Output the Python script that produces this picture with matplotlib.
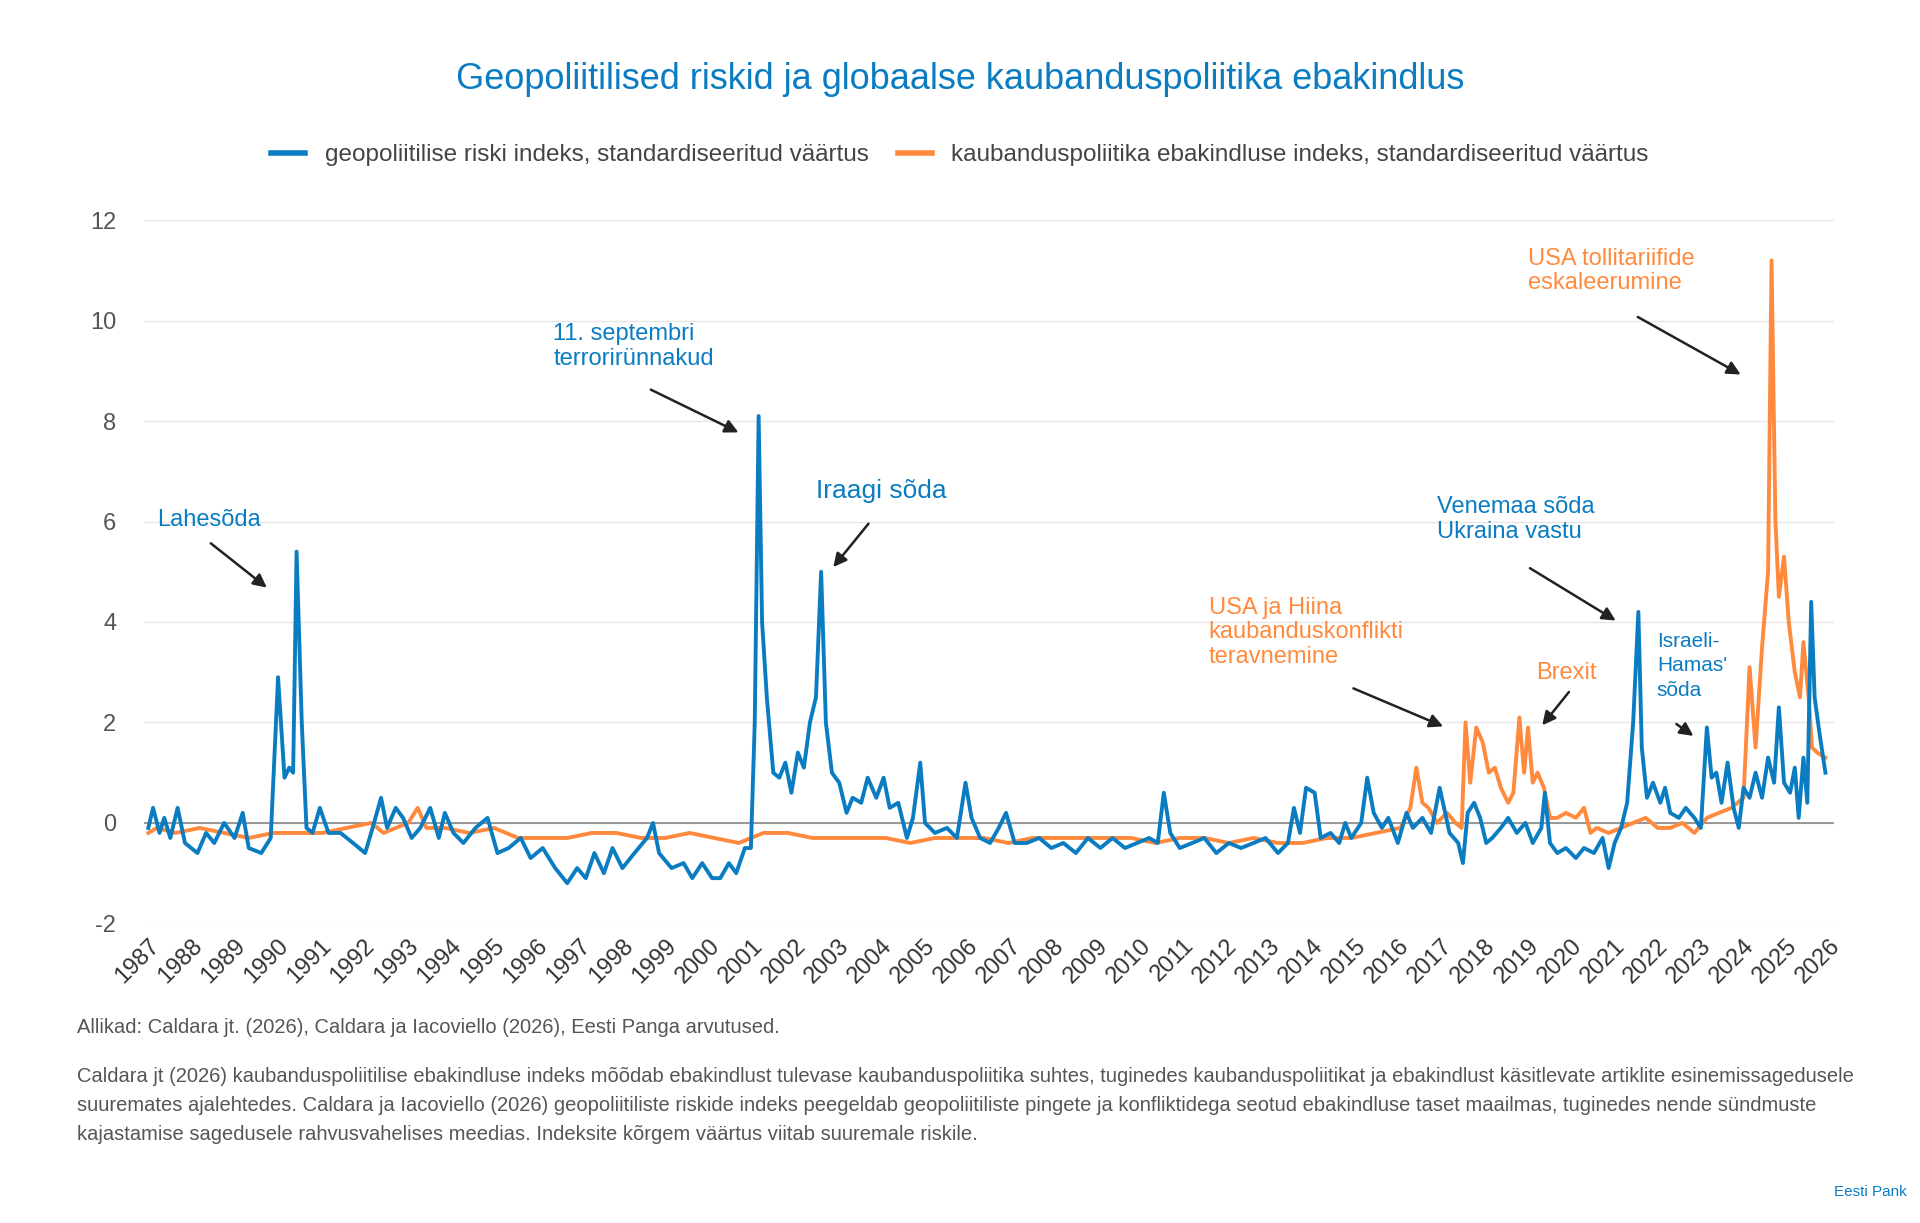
import matplotlib
matplotlib.use("Agg")
import matplotlib.pyplot as plt
from matplotlib.lines import Line2D

gpr_t = [1987.00,1987.11,1987.26,1987.37,1987.51,1987.68,1987.85,1988.14,1988.34,1988.53,1988.76,1989.0,1989.19,1989.33,1989.62,1989.84,1990.01,1990.16,1990.27,1990.36,1990.44,1990.56,1990.67,1990.81,1990.98,1991.18,1991.46,1991.75,1992.03,1992.17,1992.40,1992.54,1992.74,1992.91,1993.11,1993.31,1993.54,1993.74,1993.88,1994.08,1994.31,1994.59,1994.87,1995.10,1995.36,1995.64,1995.87,1996.15,1996.44,1996.72,1996.95,1997.15,1997.35,1997.57,1997.77,1998.00,1998.28,1998.57,1998.71,1998.85,1999.14,1999.42,1999.62,1999.85,2000.08,2000.27,2000.47,2000.64,2000.84,2000.98,2001.07,2001.16,2001.24,2001.35,2001.50,2001.64,2001.78,2001.92,2002.07,2002.21,2002.35,2002.49,2002.61,2002.72,2002.86,2003.03,2003.20,2003.34,2003.54,2003.69,2003.89,2004.06,2004.20,2004.40,2004.60,2004.74,2004.91,2005.02,2005.25,2005.53,2005.76,2005.96,2006.10,2006.30,2006.53,2006.73,2006.90,2007.10,2007.38,2007.67,2007.95,2008.23,2008.52,2008.80,2009.09,2009.37,2009.66,2009.94,2010.22,2010.42,2010.56,2010.71,2010.93,2011.22,2011.50,2011.78,2012.07,2012.35,2012.64,2012.92,2013.21,2013.44,2013.58,2013.72,2013.86,2014.06,2014.20,2014.43,2014.63,2014.77,2014.91,2015.14,2015.28,2015.43,2015.62,2015.77,2015.99,2016.19,2016.34,2016.56,2016.76,2016.96,2017.19,2017.39,2017.50,2017.61,2017.76,2017.90,2018.04,2018.18,2018.38,2018.55,2018.75,2018.95,2019.12,2019.32,2019.40,2019.52,2019.69,2019.89,2020.12,2020.31,2020.54,2020.74,2020.88,2021.02,2021.17,2021.31,2021.45,2021.57,2021.65,2021.77,2021.91,2022.08,2022.19,2022.31,2022.51,2022.67,2022.87,2023.02,2023.16,2023.27,2023.38,2023.50,2023.64,2023.78,2023.90,2024.01,2024.15,2024.29,2024.44,2024.58,2024.72,2024.83,2024.95,2025.09,2025.20,2025.29,2025.40,2025.49,2025.58,2025.66,2025.77,2025.91]
gpr_v = [-0.1,0.3,-0.2,0.1,-0.3,0.3,-0.4,-0.6,-0.2,-0.4,0.0,-0.3,0.2,-0.5,-0.6,-0.3,2.9,0.9,1.1,1.0,5.4,2.0,-0.1,-0.2,0.3,-0.2,-0.2,-0.4,-0.6,-0.2,0.5,-0.1,0.3,0.1,-0.3,-0.1,0.3,-0.3,0.2,-0.2,-0.4,-0.1,0.1,-0.6,-0.5,-0.3,-0.7,-0.5,-0.9,-1.2,-0.9,-1.1,-0.6,-1.0,-0.5,-0.9,-0.6,-0.3,0.0,-0.6,-0.9,-0.8,-1.1,-0.8,-1.1,-1.1,-0.8,-1.0,-0.5,-0.5,2.0,8.1,4.0,2.5,1.0,0.9,1.2,0.6,1.4,1.1,2.0,2.5,5.0,2.0,1.0,0.8,0.2,0.5,0.4,0.9,0.5,0.9,0.3,0.4,-0.3,0.1,1.2,0.0,-0.2,-0.1,-0.3,0.8,0.1,-0.3,-0.4,-0.1,0.2,-0.4,-0.4,-0.3,-0.5,-0.4,-0.6,-0.3,-0.5,-0.3,-0.5,-0.4,-0.3,-0.4,0.6,-0.2,-0.5,-0.4,-0.3,-0.6,-0.4,-0.5,-0.4,-0.3,-0.6,-0.4,0.3,-0.2,0.7,0.6,-0.3,-0.2,-0.4,0.0,-0.3,0.0,0.9,0.2,-0.1,0.1,-0.4,0.2,-0.1,0.1,-0.2,0.7,-0.2,-0.4,-0.8,0.2,0.4,0.1,-0.4,-0.3,-0.1,0.1,-0.2,0.0,-0.4,-0.1,0.6,-0.4,-0.6,-0.5,-0.7,-0.5,-0.6,-0.3,-0.9,-0.4,-0.1,0.4,2.0,4.2,1.5,0.5,0.8,0.4,0.7,0.2,0.1,0.3,0.1,-0.1,1.9,0.9,1.0,0.4,1.2,0.3,-0.1,0.7,0.5,1.0,0.5,1.3,0.8,2.3,0.8,0.6,1.1,0.1,1.3,0.4,4.4,2.5,1.8,1.0]

tpu_t = [1987.0,1987.2,1987.63,1988.19,1988.76,1989.33,1989.90,1990.47,1991.04,1991.60,1992.17,1992.46,1992.74,1993.03,1993.25,1993.45,1993.88,1994.45,1995.02,1995.58,1996.15,1996.72,1997.29,1997.86,1998.43,1998.99,1999.56,2000.13,2000.70,2001.27,2001.84,2002.41,2002.97,2003.54,2004.11,2004.68,2005.25,2005.82,2006.39,2006.95,2007.52,2008.09,2008.66,2009.23,2009.80,2010.37,2010.93,2011.50,2012.07,2012.64,2013.21,2013.78,2014.35,2014.91,2015.48,2016.05,2016.28,2016.42,2016.56,2016.70,2016.90,2017.13,2017.33,2017.47,2017.56,2017.67,2017.81,2017.96,2018.10,2018.24,2018.38,2018.55,2018.67,2018.81,2018.92,2019.01,2019.12,2019.23,2019.38,2019.52,2019.69,2019.89,2020.12,2020.31,2020.46,2020.60,2020.88,2021.17,2021.45,2021.74,2022.02,2022.31,2022.59,2022.87,2023.16,2023.44,2023.73,2024.01,2024.15,2024.29,2024.44,2024.58,2024.66,2024.75,2024.83,2024.95,2025.06,2025.20,2025.32,2025.40,2025.52,2025.60,2025.72,2025.91]
tpu_v = [-0.2,-0.1,-0.2,-0.1,-0.2,-0.3,-0.2,-0.2,-0.2,-0.1,0.0,-0.2,-0.1,0.0,0.3,-0.1,-0.1,-0.2,-0.1,-0.3,-0.3,-0.3,-0.2,-0.2,-0.3,-0.3,-0.2,-0.3,-0.4,-0.2,-0.2,-0.3,-0.3,-0.3,-0.3,-0.4,-0.3,-0.3,-0.3,-0.4,-0.3,-0.3,-0.3,-0.3,-0.3,-0.4,-0.3,-0.3,-0.4,-0.3,-0.4,-0.4,-0.3,-0.3,-0.2,-0.1,0.3,1.1,0.4,0.3,0.0,0.2,0.0,-0.1,2.0,0.8,1.9,1.6,1.0,1.1,0.7,0.4,0.6,2.1,1.0,1.9,0.8,1.0,0.7,0.1,0.1,0.2,0.1,0.3,-0.2,-0.1,-0.2,-0.1,0.0,0.1,-0.1,-0.1,0.0,-0.2,0.1,0.2,0.3,0.5,3.1,1.5,3.5,5.0,11.2,6.0,4.5,5.3,4.0,3.0,2.5,3.6,2.5,1.5,1.4,1.3]

years = list(range(1987, 2027))
yticks = [-2, 0, 2, 4, 6, 8, 10, 12]

BLUE = "#0a7cc2"
ORANGE = "#ff8a3d"
GREY = "#555555"

plt.rcParams['font.family'] = ['Liberation Sans', 'DejaVu Sans']
fig = plt.figure(figsize=(19.2, 12.23), dpi=100)
ax = fig.add_axes([0.075, 0.245, 0.88, 0.575])

ax.plot(tpu_t, tpu_v, color=ORANGE, lw=2.8, zorder=3)
ax.plot(gpr_t, gpr_v, color=BLUE, lw=2.8, zorder=4)

ax.set_xlim(1986.9, 2026.1)
ax.set_ylim(-2, 12)
ax.set_yticks(yticks)
ax.set_yticklabels([str(v) for v in yticks], fontsize=17, color=GREY)
ax.set_xticks(years)
ax.set_xticklabels([str(y) for y in years], rotation=45, ha='right', rotation_mode='anchor', fontsize=17, color="#333333")
ax.tick_params(length=0, pad=8)
ax.tick_params(axis='y', pad=20)
for s in ax.spines.values():
    s.set_visible(False)
ax.grid(axis='y', color="#e6e6e6", lw=1)
ax.axhline(0, color="#888888", lw=1.2, zorder=2)

fig.text(0.5, 0.935, "Geopoliitilised riskid ja globaalse kaubanduspoliitika ebakindlus",
         ha='center', va='center', fontsize=26, color=BLUE)
handles = [Line2D([], [], color=BLUE, lw=4), Line2D([], [], color=ORANGE, lw=4)]
fig.legend(handles, ["geopoliitilise riski indeks, standardiseeritud väärtus",
                     "kaubanduspoliitika ebakindluse indeks, standardiseeritud väärtus"],
           loc='center', bbox_to_anchor=(0.5, 0.873), ncol=2, frameon=False,
           fontsize=17.5, labelcolor="#444444", handlelength=1.4, columnspacing=1.2)

ann = dict(arrowstyle='-|>', color='#222222', lw=1.8, mutation_scale=20)
def note(txt, x, y, color, size=17, ls=1.15):
    ax.text(x, y, txt, color=color, fontsize=size, va='top', ha='left', linespacing=ls)
def arrow(xyt, xy):
    ax.annotate("", xy=xy, xytext=xyt, arrowprops=ann)

note("Lahesõda", 1987.2, 6.25, BLUE)
arrow((1988.4, 5.6), (1989.8, 4.65))
note("11. septembri\nterrorirünnakud", 1996.4, 9.95, BLUE)
arrow((1998.6, 8.65), (2000.75, 7.75))
note("Iraagi sõda", 2002.5, 6.85, BLUE, size=19)
arrow((2003.75, 6.0), (2002.85, 5.05))
note("USA ja Hiina\nkaubanduskonflikti\nteravnemine", 2011.6, 4.5, ORANGE)
arrow((2014.9, 2.7), (2017.1, 1.9))
note("Brexit", 2019.2, 3.2, ORANGE)
arrow((2020.0, 2.65), (2019.3, 1.9))
note("Venemaa sõda\nUkraina vastu", 2016.9, 6.5, BLUE)
arrow((2019.0, 5.1), (2021.1, 4.0))
note("Israeli-\nHamas'\nsõda", 2022.0, 3.8, BLUE, size=15, ls=1.35)
arrow((2022.4, 2.0), (2022.9, 1.7))
note("USA tollitariifide\neskaleerumine", 2019.0, 11.45, ORANGE)
arrow((2021.5, 10.1), (2024.0, 8.9))

fig.text(0.04, 0.16, "Allikad: Caldara jt. (2026), Caldara ja Iacoviello (2026), Eesti Panga arvutused.",
         fontsize=14.5, color=GREY, va='center')
fig.text(0.04, 0.096,
         "Caldara jt (2026) kaubanduspoliitilise ebakindluse indeks mõõdab ebakindlust tulevase kaubanduspoliitika suhtes, tuginedes kaubanduspoliitikat ja ebakindlust käsitlevate artiklite esinemissagedusele\n"
         "suuremates ajalehtedes. Caldara ja Iacoviello (2026) geopoliitiliste riskide indeks peegeldab geopoliitiliste pingete ja konfliktidega seotud ebakindluse taset maailmas, tuginedes nende sündmuste\n"
         "kajastamise sagedusele rahvusvahelises meedias. Indeksite kõrgem väärtus viitab suuremale riskile.",
         fontsize=14.5, color=GREY, va='center', linespacing=1.65)
fig.text(0.955, 0.025, "Eesti Pank", fontsize=11, color=BLUE, va='center')

fig.savefig("out.png", dpi=100, facecolor='white')
